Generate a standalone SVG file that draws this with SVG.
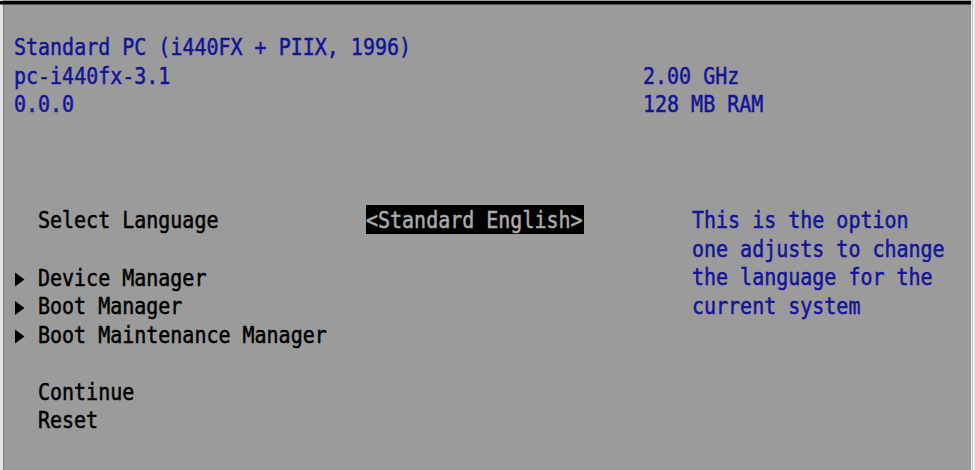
<svg xmlns="http://www.w3.org/2000/svg" width="975" height="470" viewBox="0 0 975 470">
<style>
.t{font-family:"DejaVu Sans Mono","Liberation Mono",monospace;font-size:20px;white-space:pre;stroke-width:0.45px}
.b{fill:#14149a;stroke:#14149a}
.k{fill:#000;stroke:#000}
.h{fill:#ababab;stroke:#ababab}
</style>
<rect x="0" y="0" width="975" height="470" fill="#9b9b9b"/>
<rect x="0" y="0" width="3" height="470" fill="#e6e6e6"/>
<rect x="3" y="0" width="1" height="470" fill="#7a7a7a"/>
<rect x="971" y="0" width="4" height="470" fill="#ececec"/>
<rect x="972" y="0" width="1" height="470" fill="#c8c8c8"/>
<rect x="0" y="1" width="971" height="3.5" fill="#000"/>
<g id="header">
<text class="t b" transform="translate(14,55) scale(1,1.16)">Standard PC (i440FX + PIIX, 1996)</text>
<text class="t b" transform="translate(14,83.5) scale(1,1.16)">pc-i440fx-3.1</text>
<text class="t b" transform="translate(14,112) scale(1,1.16)">0.0.0</text>
<text class="t b" transform="translate(643,83.5) scale(1,1.16)">2.00 GHz</text>
<text class="t b" transform="translate(643,112) scale(1,1.16)">128 MB RAM</text>
</g>
<g id="select-language">
<text class="t k" transform="translate(38,228) scale(1,1.16)">Select Language</text>
<rect x="366" y="205" width="218" height="29" fill="#000"/>
<text class="t h" transform="translate(366,228) scale(1,1.16)">&lt;Standard English&gt;</text>
</g>
<g id="help">
<text class="t b" transform="translate(692,228) scale(1,1.16)">This is the option</text>
<text class="t b" transform="translate(692,256.5) scale(1,1.16)">one adjusts to change</text>
<text class="t b" transform="translate(692,285) scale(1,1.16)">the language for the</text>
<text class="t b" transform="translate(692,313.5) scale(1,1.16)">current system</text>
</g>
<g id="menu">
<polygon points="15,272.5 24.5,279.5 15,286.5" fill="#000"/>
<text class="t k" transform="translate(38,285.5) scale(1,1.16)">Device Manager</text>
<polygon points="15,301 24.5,308 15,315" fill="#000"/>
<text class="t k" transform="translate(38,314) scale(1,1.16)">Boot Manager</text>
<polygon points="15,329.5 24.5,336.5 15,343.5" fill="#000"/>
<text class="t k" transform="translate(38,342.5) scale(1,1.16)">Boot Maintenance Manager</text>
<text class="t k" transform="translate(38,399.5) scale(1,1.16)">Continue</text>
<text class="t k" transform="translate(38,428) scale(1,1.16)">Reset</text>
</g>
</svg>
